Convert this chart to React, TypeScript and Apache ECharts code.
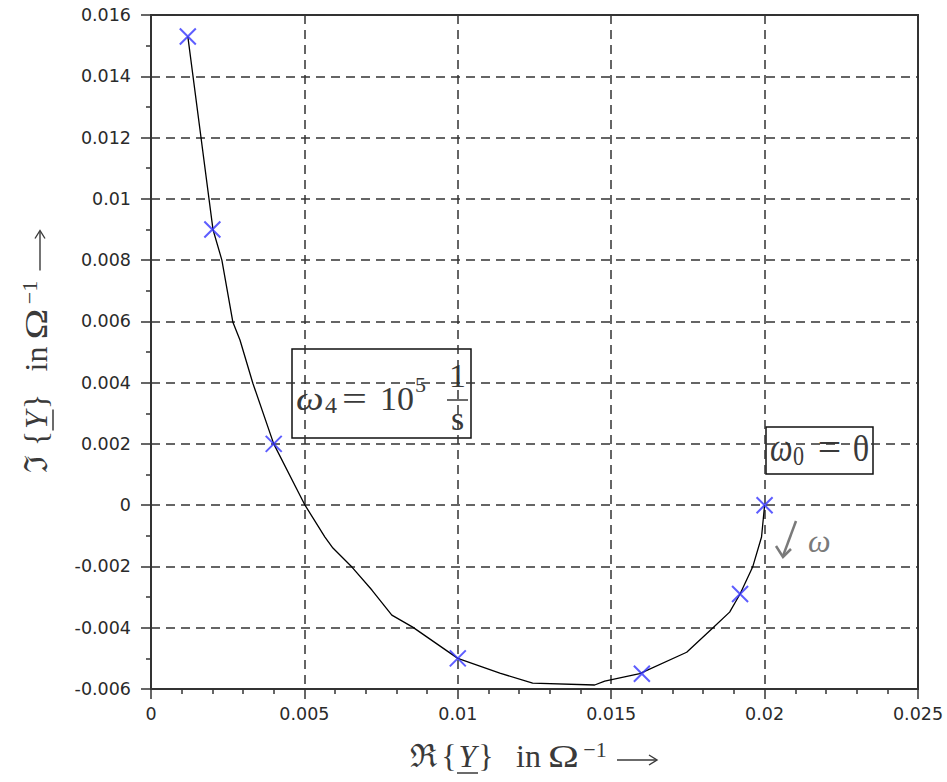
import React, { useEffect, useRef } from 'react';
import * as echarts from 'echarts';

// ---- axis ranges / ticks ----
const reMin = 0;
const reMax = 0.025;
const reStep = 0.005;
const imMin = -0.006;
const imMax = 0.016;
const imStep = 0.002;

// ---- measured admittance points (blue crosses) ----
const measRe = [0.0012, 0.002, 0.004, 0.01, 0.016, 0.0192, 0.02];
const measIm = [0.0153, 0.009, 0.002, -0.005, -0.0055, -0.0029, 0];

// ---- locus curve (black polyline) ----
const curveRe = [0.0012, 0.00202, 0.00231, 0.00267, 0.0029, 0.00332, 0.004, 0.00502, 0.00567, 0.00593, 0.00655, 0.0072, 0.00785, 0.00853, 0.01, 0.01137, 0.01244, 0.01446, 0.01479, 0.01593, 0.01746, 0.01831, 0.01886, 0.0192, 0.01961, 0.0199, 0.02];
const curveIm = [0.0153, 0.009, 0.008, 0.00597, 0.00539, 0.00398, 0.002, 0, -0.00104, -0.0014, -0.00202, -0.00277, -0.00359, -0.00398, -0.005, -0.00548, -0.00581, -0.00587, -0.00574, -0.0055, -0.0048, -0.00401, -0.00349, -0.0029, -0.00202, -0.00104, 0];

const SERIF = "'Liberation Serif', 'DejaVu Serif', serif";
const SANS = "'DejaVu Sans', sans-serif";
const INK = '#3a3a3a';
const SOFT = '#7a7a7a';

function txt(x: number, y: number, text: string, size: number, opts: any = {}) {
  return {
    type: 'text',
    x,
    y,
    scaleX: opts.scaleX ?? 1,
    scaleY: opts.scaleY ?? 1,
    silent: true,
    style: {
      text,
      font: `${opts.italic ? 'italic ' : ''}${size}px ${SERIF}`,
      fill: opts.fill ?? INK,
      align: opts.align ?? 'center',
      verticalAlign: 'middle',
    },
  };
}

function axisName(cx: number, cy: number, rotation: number, first: string) {
  return {
    type: 'group',
    x: cx,
    y: cy,
    rotation,
    silent: true,
    children: [
      txt(-111.5, 0, first, 32),
      txt(-86, 0, '{', 32),
      txt(-67.5, 0, 'Y', 32, { italic: true }),
      { type: 'line', shape: { x1: -78, y1: 17, x2: -57, y2: 17 }, style: { stroke: INK, lineWidth: 1.5 } },
      txt(-49, 0, '}', 32),
      txt(-6.5, 0, 'in', 32),
      txt(28.5, 0, 'Ω', 32, { scaleX: 1.3 }),
      txt(60, -7, '−1', 22),
      { type: 'line', shape: { x1: 82, y1: 4, x2: 121, y2: 4 }, style: { stroke: INK, lineWidth: 1.4 } },
      { type: 'polyline', shape: { points: [[114, -1], [122, 4], [114, 9]] }, style: { stroke: INK, lineWidth: 1.4, fill: 'none' } },
    ],
  };
}

export default function App() {
  const ref = useRef<HTMLDivElement>(null);

  useEffect(() => {
    if (!ref.current) return;
    const chart = echarts.init(ref.current, undefined, { renderer: 'svg' });
    const fmt = (v: number) => String(parseFloat(v.toFixed(4)));

    const option: any = {
      animation: false,
      backgroundColor: '#fff',
      grid: {
        left: 151,
        right: 29,
        top: 15,
        bottom: 93,
        show: true,
        borderColor: '#333',
        borderWidth: 2,
        backgroundColor: 'transparent',
      },
      xAxis: {
        type: 'value',
        min: reMin,
        max: reMax,
        interval: reStep,
        axisLine: { show: true, onZero: false, lineStyle: { color: '#333', width: 2 } },
        axisTick: { show: true, length: 10, lineStyle: { color: '#333', width: 1.5 } },
        minorTick: { show: true, splitNumber: 5, length: 5, lineStyle: { color: '#333', width: 1.5 } },
        axisLabel: { formatter: fmt, fontFamily: SANS, fontSize: 17.5, color: '#2a2a2a', margin: 16 },
        splitLine: { show: true, lineStyle: { color: '#333', width: 1.5, type: [9, 6] } },
      },
      yAxis: {
        type: 'value',
        min: imMin,
        max: imMax,
        interval: imStep,
        axisLine: { show: true, onZero: false, lineStyle: { color: '#333', width: 2 } },
        axisTick: { show: true, length: 10, lineStyle: { color: '#333', width: 1.5 } },
        minorTick: { show: true, splitNumber: 2, length: 5, lineStyle: { color: '#333', width: 1.5 } },
        axisLabel: { formatter: fmt, fontFamily: SANS, fontSize: 17.5, color: '#2a2a2a', margin: 20 },
        splitLine: { show: true, lineStyle: { color: '#333', width: 1.5, type: [9, 6] } },
      },
      series: [
        {
          type: 'line',
          data: curveRe.map((x, i) => [x, curveIm[i]]),
          showSymbol: false,
          symbol: 'none',
          lineStyle: { color: '#000', width: 1.3 },
          z: 2,
        },
        {
          type: 'scatter',
          data: measRe.map((x, i) => [x, measIm[i]]),
          symbol: 'path://M0,0L10,10M10,0L0,10',
          symbolSize: 16,
          itemStyle: { color: 'none', borderColor: '#3535ff', borderWidth: 2 },
          z: 3,
        },
      ],
      graphic: [
        axisName(535, 756, 0, 'ℜ'),
        axisName(36, 352.5, Math.PI / 2, 'ℑ'),
        // annotation: omega_4
        {
          type: 'group',
          silent: true,
          children: [
            { type: 'rect', shape: { x: 292, y: 349, width: 179, height: 89 }, style: { fill: '#fff', stroke: '#111', lineWidth: 1.5 } },
            txt(296, 398.5, 'ω', 34, { italic: true, align: 'left', scaleX: 1.15 }),
            txt(325, 405, '4', 24, { align: 'left' }),
            txt(354.5, 398.5, '=', 34, { scaleX: 1.3 }),
            txt(380, 398.5, '10', 34, { align: 'left' }),
            txt(415, 384.5, '5', 22, { align: 'left' }),
            txt(457.5, 375.5, '1', 34),
            { type: 'line', shape: { x1: 447, y1: 400, x2: 468, y2: 400 }, style: { stroke: INK, lineWidth: 1.5 } },
            txt(457.5, 418.5, 's', 34),
          ],
        },
        // annotation: omega_0
        {
          type: 'group',
          silent: true,
          children: [
            { type: 'rect', shape: { x: 766, y: 427, width: 107, height: 47 }, style: { fill: '#fff', stroke: '#111', lineWidth: 1.5 } },
            txt(770, 448, 'ω', 32, { italic: true, align: 'left', scaleY: 1.25 }),
            txt(793, 456, '0', 22, { align: 'left', scaleY: 1.25 }),
            txt(829.5, 448, '=', 32, { scaleY: 1.25, scaleX: 1.3 }),
            txt(853, 448, '0', 32, { align: 'left', scaleY: 1.25 }),
          ],
        },
        // direction arrow + omega
        {
          type: 'group',
          silent: true,
          children: [
            { type: 'line', shape: { x1: 796, y1: 521, x2: 783, y2: 556 }, style: { stroke: SOFT, lineWidth: 2.5 } },
            { type: 'polyline', shape: { points: [[776, 546], [783, 557], [791, 549]] }, style: { stroke: SOFT, lineWidth: 2.5, fill: 'none' } },
            txt(808, 541, 'ω', 32, { italic: true, align: 'left', fill: SOFT }),
          ],
        },
      ],
    };

    chart.setOption(option);
    return () => chart.dispose();
  }, []);

  return (
    <div
      ref={ref}
      style={{ position: 'absolute', left: 0, top: 0, width: 947, height: 782, background: '#fff' }}
    />
  );
}
